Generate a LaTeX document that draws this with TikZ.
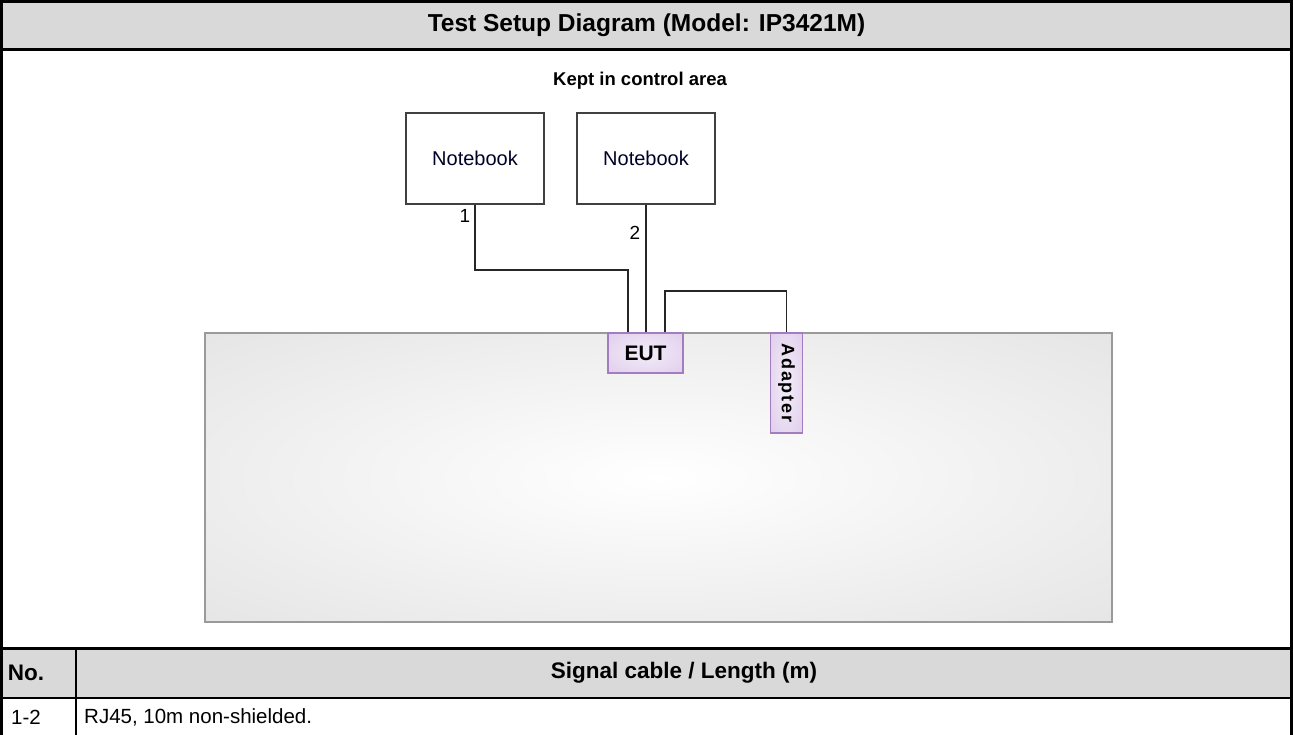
\documentclass[tikz,border=0pt]{standalone}
\usepackage{fontspec}
\setmainfont{Liberation Sans}
\usetikzlibrary{calc}
\definecolor{hdrgray}{HTML}{D9D9D9}
\definecolor{lav}{HTML}{D8C2E8}
\definecolor{lavborder}{HTML}{A47CC0}
\definecolor{tblborder}{HTML}{9A9A9A}
\pgfdeclareradialshading{tablerad}{\pgfpoint{0bp}{0bp}}{color(0bp)=(white); color(46bp)=(black!13); color(72bp)=(black!14)}
\pgfdeclareradialshading{eutrad}{\pgfpoint{0bp}{0bp}}{color(0bp)=(white!70!lav); color(50bp)=(lav); color(72bp)=(lav)}
\tikzset{
  nbbox/.style={draw=black!75, line width=1.8pt, minimum width=138pt, minimum height=91pt, inner sep=0pt, font=\fontsize{20}{23}\selectfont, text=black!85!blue},
  eutbox/.style={draw=lavborder, line width=1.5pt, shading=eutrad, inner sep=0pt, font=\bfseries\fontsize{21}{24}\selectfont},
  cable/.style={draw=black!85, line width=1.6pt},
  hdr/.style={font=\bfseries\fontsize{22.5}{26}\selectfont},
  cell/.style={font=\fontsize{20.5}{24}\selectfont},
  numlbl/.style={font=\fontsize{19}{22}\selectfont, inner sep=1pt},
}
\begin{document}
\begin{tikzpicture}[x=1pt,y=-1pt]
\useasboundingbox (0,0) rectangle (1293,735);
% header fills
\fill[hdrgray] (0,0) rectangle (1293,50);
\fill[hdrgray] (0,648) rectangle (1293,698);
% table rules
\draw[line width=3pt] (0,50) -- (1293,50);
\draw[line width=3pt] (0,648) -- (1293,648);
\draw[line width=1.5pt] (0,698) -- (1293,698);
\draw[line width=1.5pt] (76,648) -- (76,735);
\draw[line width=3pt] (1.5,0) -- (1.5,735);
\draw[line width=3pt] (1291.5,0) -- (1291.5,735);
\draw[line width=3pt] (0,1.5) -- (1293,1.5);
% header texts
\node[font=\bfseries\fontsize{24.5}{28}\selectfont] (title) at (646.5,25) {Test Setup Diagram (Model: IP3421M)};
\node[hdr] (colno) at (26,673) {No.};
\node[hdr] (colsig) at (684,673) {Signal cable / Length (m)};
\node[cell] (r1no) at (26,717) {1-2};
\node[cell, anchor=west, inner sep=0pt] (r1sig) at (84,717) {RJ45, 10m non-shielded.};
% diagram
\node[font=\bfseries\fontsize{18.5}{21}\selectfont] (kept) at (640,81) {Kept in control area};
\node[draw=tblborder, line width=1.5pt, shading=tablerad, minimum width=907pt, minimum height=289pt, inner sep=0pt] (table) at (658.5,477.5) {};
\node[nbbox] (nb1) at (475,158.5) {Notebook};
\node[nbbox] (nb2) at (646,158.5) {Notebook};
\node[eutbox, minimum width=75pt, minimum height=40pt] (eut) at (645.5,353) {\raisebox{-1pt}{EUT}};
\node[eutbox, minimum width=32pt, minimum height=100pt] (adp) at (786.5,383) {};
\node[rotate=-90, font=\bfseries\fontsize{18}{21}\selectfont] (adptxt) at (adp.center) {\addfontfeatures{LetterSpace=10}Adapter};
% cables
\coordinate (c1a) at (475,270);
\coordinate (c3a) at (665,291);
\draw[cable] (nb1.south) -- (c1a) -| ($(eut.north)+(-17.5,0)$);
\draw[cable] (nb2.south) -- (nb2.south |- eut.north);
\draw[cable] ($(eut.north)+(19.5,0)$) |- (c3a) -| (adp.north);
\node[numlbl] (l1) at (465,216) {1};
\node[numlbl] (l2) at (635,233) {2};
\end{tikzpicture}
\end{document}
